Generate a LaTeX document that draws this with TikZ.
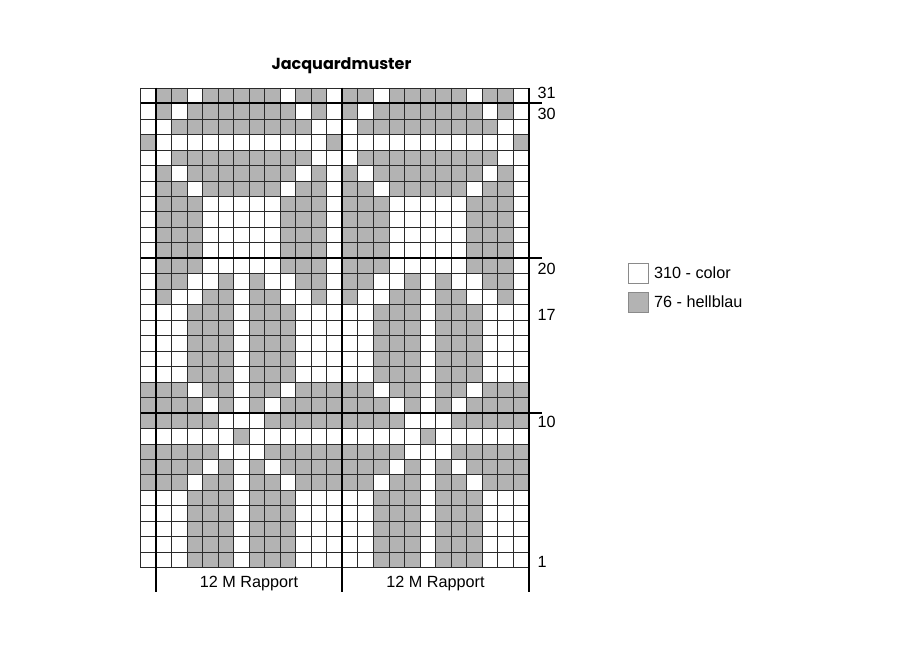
\documentclass[tikz,border=0pt]{standalone}
\usepackage{fontspec}
\setmainfont{Liberation Sans}
\newfontfamily\titlefont{Poppins}
\definecolor{cellgray}{HTML}{B3B3B3}
\definecolor{gridc}{HTML}{2A2A2A}
\definecolor{legborder}{HTML}{8A8A8A}
\begin{document}
\begin{tikzpicture}[x=1pt,y=-1pt,
  lbl/.style={font=\fontsize{16.2}{19}\selectfont, inner sep=0pt},
  gridline/.style={draw=gridc, line width=0.6pt},
  thickline/.style={draw=black, line width=2pt},
  legbox/.style={draw=legborder, line width=0.8pt, minimum width=20.5pt, minimum height=20pt, inner sep=0pt}]
\useasboundingbox[fill=white] (0,0) rectangle (900,650);

% title
\node[font=\titlefont\bfseries\fontsize{16}{19}\selectfont, anchor=base, inner sep=0pt] (title) at (341.5,69.5) {Jacquardmuster};

\begin{scope}[shift={(140.5,88)}, x=15.52pt, y=-15.47pt]
  % gray cells (pattern repeat of 12, column 0 repeats column 12)
  \foreach \r/\g in {
    31/{1,2,4,5,6,7,8,10,11},
    30/{1,3,4,5,6,7,8,9,11},
    29/{2,3,4,5,6,7,8,9,10},
    28/{12},
    27/{2,3,4,5,6,7,8,9,10},
    26/{1,3,4,5,6,7,8,9,11},
    25/{1,2,4,5,6,7,8,10,11},
    24/{1,2,3,9,10,11},
    23/{1,2,3,9,10,11},
    22/{1,2,3,9,10,11},
    21/{1,2,3,9,10,11},
    20/{1,2,3,9,10,11},
    19/{1,2,5,7,10,11},
    18/{1,4,5,7,8,11},
    17/{3,4,5,7,8,9},
    16/{3,4,5,7,8,9},
    15/{3,4,5,7,8,9},
    14/{3,4,5,7,8,9},
    13/{3,4,5,7,8,9},
    12/{1,2,4,5,7,8,10,11,12},
    11/{1,2,3,5,7,9,10,11,12},
    10/{1,2,3,4,8,9,10,11,12},
    9/{6},
    8/{1,2,3,4,8,9,10,11,12},
    7/{1,2,3,5,7,9,10,11,12},
    6/{1,2,4,5,7,8,10,11,12},
    5/{3,4,5,7,8,9},
    4/{3,4,5,7,8,9},
    3/{3,4,5,7,8,9},
    2/{3,4,5,7,8,9},
    1/{3,4,5,7,8,9}}{
    \foreach \j in \g {
      \fill[cellgray] (\j,{31-\r}) rectangle ++(1,1);
      \fill[cellgray] ({\j+12},{31-\r}) rectangle ++(1,1);
      \ifnum\j=12 \fill[cellgray] (0,{31-\r}) rectangle ++(1,1); \fi
    }
  }
  % thin grid
  \foreach \i in {0,...,25} \draw[gridline] (\i,0) -- (\i,31);
  \foreach \k in {0,...,31} \draw[gridline] (0,\k) -- (25,\k);
  % thick rapport lines
  \foreach \i in {1,13,25} \draw[thickline] (\i,0) -- (\i,32.6);
  \foreach \k in {1,11,21} \draw[thickline] (0,\k) -- (25.85,\k);
\end{scope}

% row numbers
\node[lbl, anchor=base west] (n31) at (537.5,98.3) {31};
\node[lbl, anchor=base west] (n30) at (537.5,119.2) {30};
\node[lbl, anchor=base west] (n20) at (537.5,274) {20};
\node[lbl, anchor=base west] (n17) at (537.5,320) {17};
\node[lbl, anchor=base west] (n10) at (537.5,427) {10};
\node[lbl, anchor=base west] (n1) at (537.5,567) {1};

% rapport labels
\node[lbl, anchor=base] (rap1) at (249,587) {12 M Rapport};
\node[lbl, anchor=base] (rap2) at (435.5,587) {12 M Rapport};

% legend
\node[legbox, fill=white] (legw) at (638.3,273) {};
\node[legbox, fill=cellgray] (legg) at (638.3,302.5) {};
\node[lbl, anchor=base west] (legwt) at (654,278.5) {310 - color};
\node[lbl, anchor=base west] (leggt) at (654,307.5) {76 - hellblau};
\end{tikzpicture}
\end{document}
